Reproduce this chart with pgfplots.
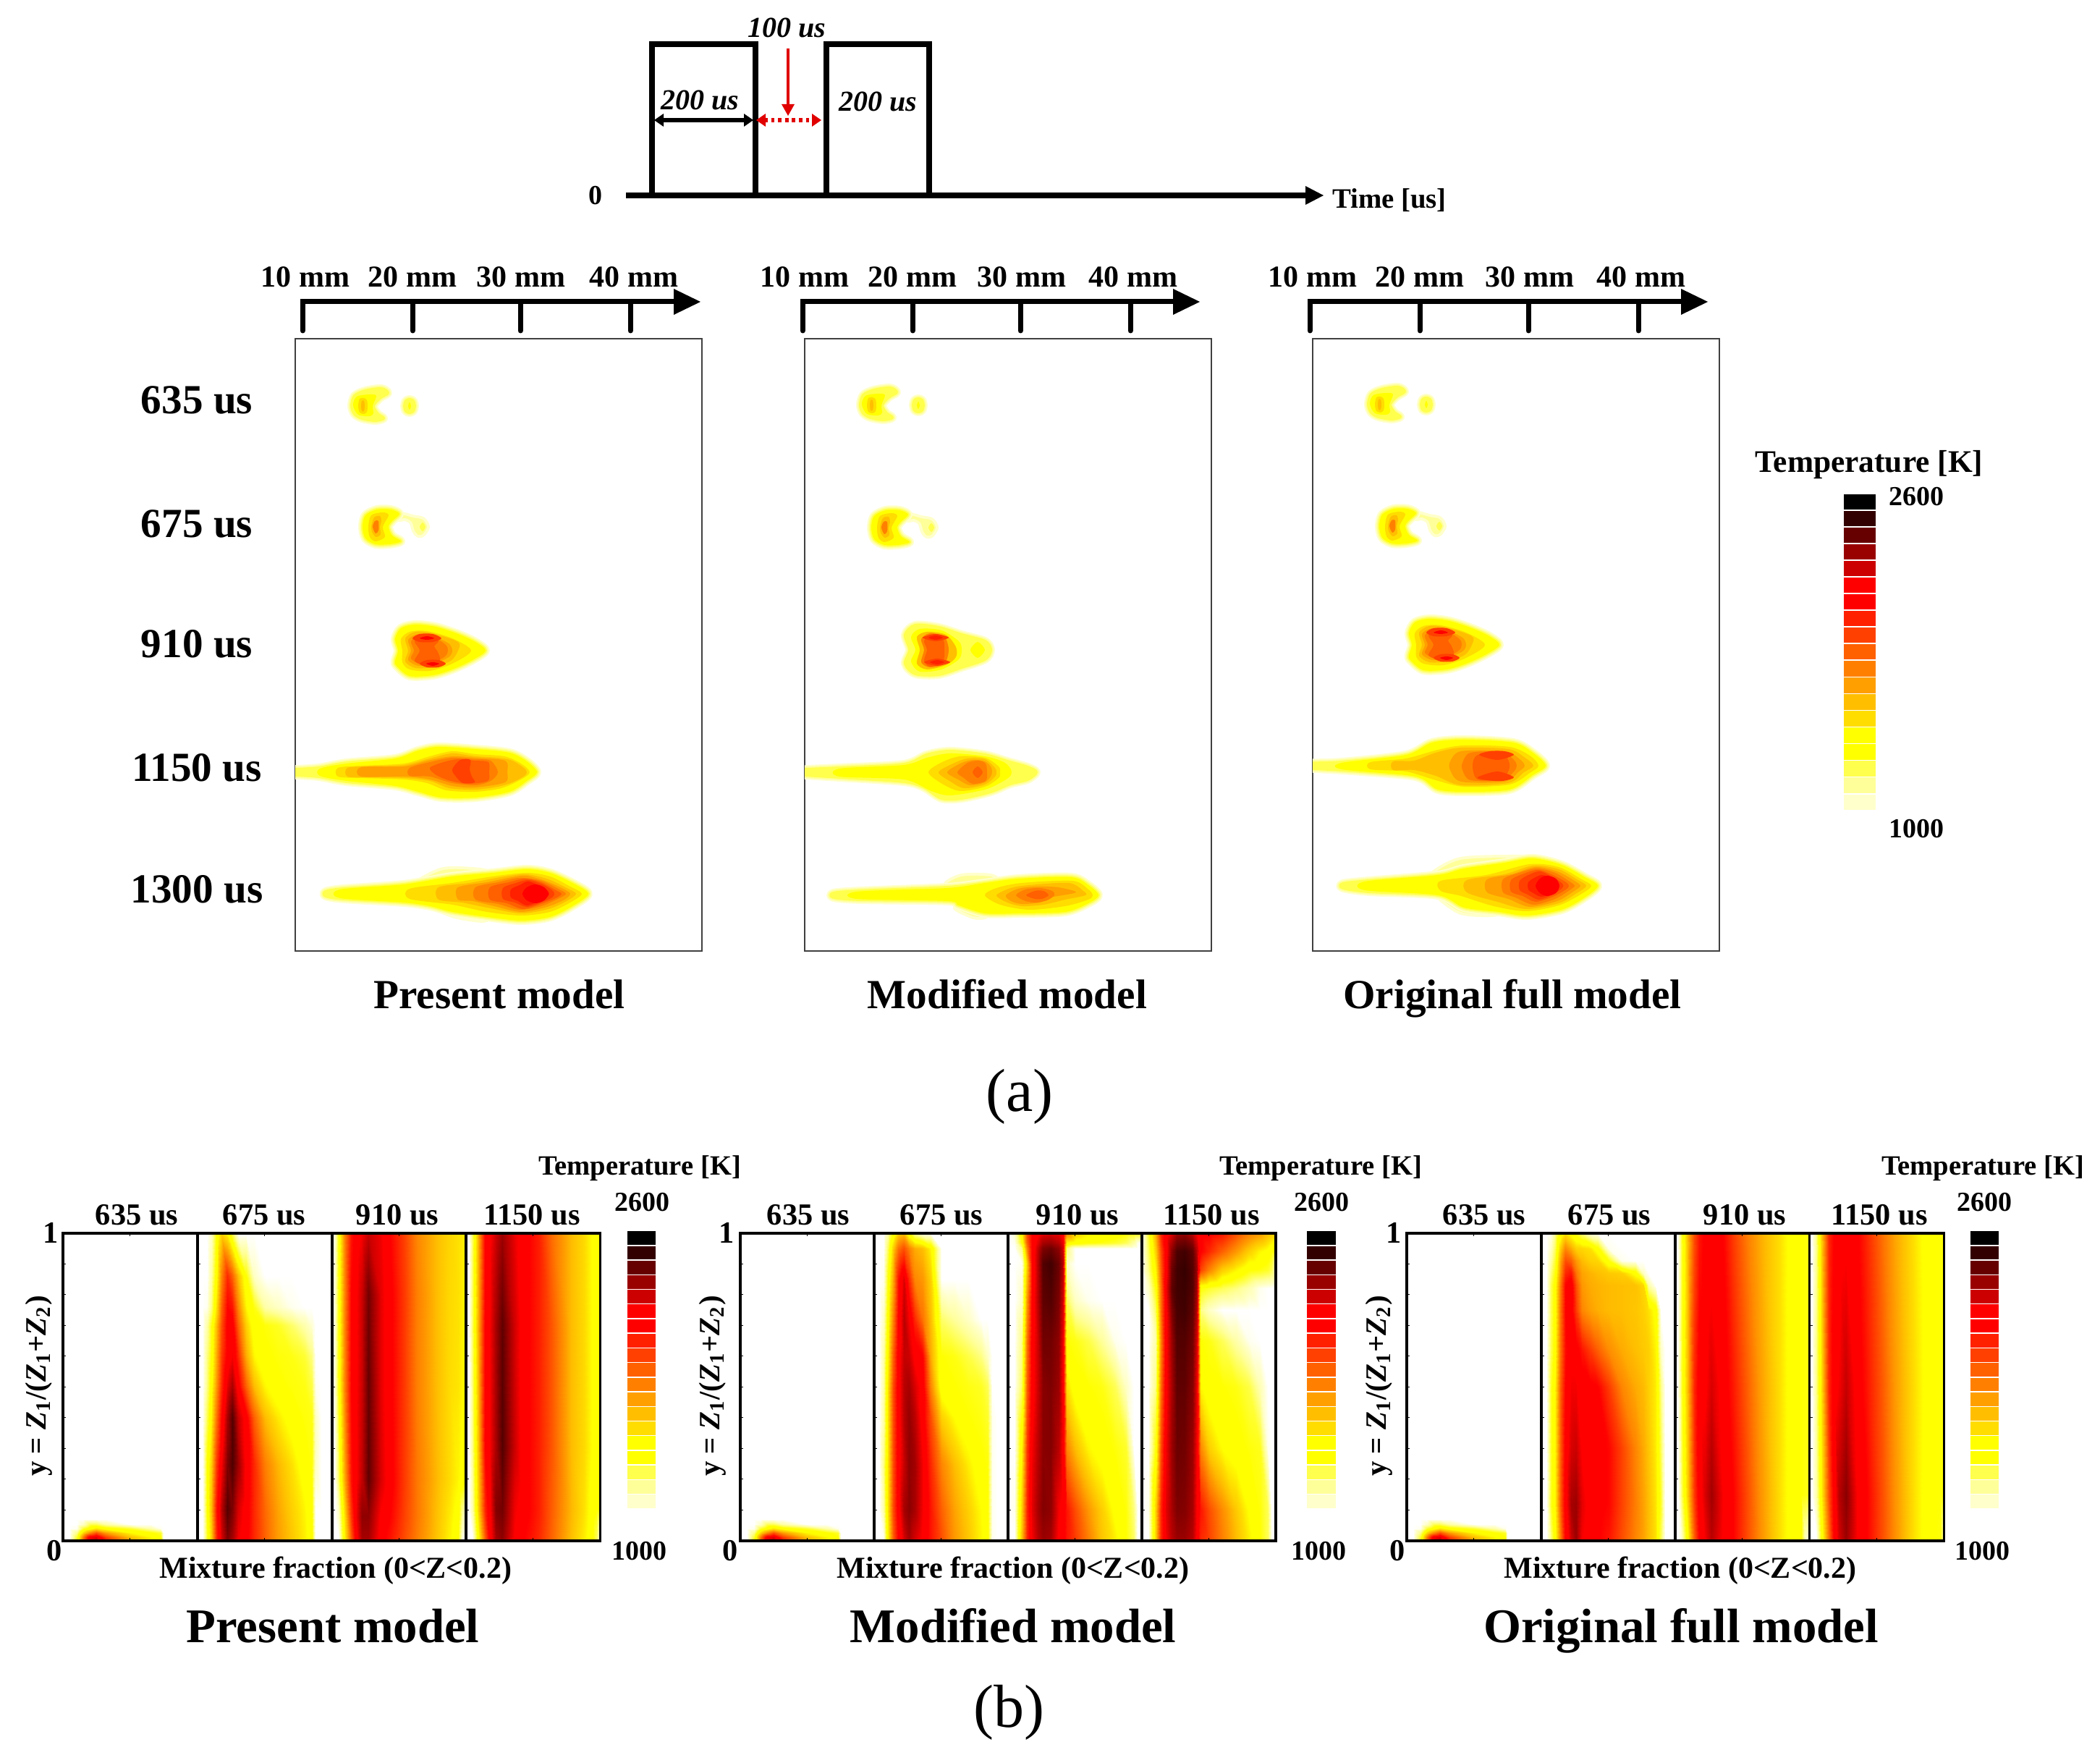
\documentclass[border=0pt]{standalone}
\usepackage{fontspec}
\setmainfont{Liberation Serif}
\usepackage{pgfplots}
\pgfplotsset{compat=1.18}

% contour colours, coolest first
\definecolor{lv1}{HTML}{FFFFCC}\definecolor{lv2}{HTML}{FFFF99}\definecolor{lv3}{HTML}{FFFF4D}
\definecolor{lv4}{HTML}{FFFF00}\definecolor{lv5}{HTML}{FFDD00}\definecolor{lv6}{HTML}{FFBF00}
\definecolor{lv7}{HTML}{FF9F00}\definecolor{lv8}{HTML}{FF8000}\definecolor{lv9}{HTML}{FF6000}
\definecolor{lv10}{HTML}{FF4000}\definecolor{lv11}{HTML}{FF2000}\definecolor{lv12}{HTML}{FF0000}
\definecolor{lv13}{HTML}{CC0000}\definecolor{lv14}{HTML}{990000}\definecolor{lv15}{HTML}{660000}
\definecolor{lv16}{HTML}{330000}\definecolor{lv17}{HTML}{000000}
\definecolor{arrowred}{HTML}{E00000}

\pgfplotsset{
  colormap={temp}{
    rgb255(980pt)=(255,255,255); rgb255(1040pt)=(255,255,204); rgb255(1125pt)=(255,255,153);
    rgb255(1210pt)=(255,255,77); rgb255(1300pt)=(255,255,0); rgb255(1380pt)=(255,255,0);
    rgb255(1460pt)=(255,221,0); rgb255(1550pt)=(255,191,0); rgb255(1630pt)=(255,159,0);
    rgb255(1716pt)=(255,128,0); rgb255(1800pt)=(255,96,0); rgb255(1884pt)=(255,64,0);
    rgb255(1968pt)=(255,32,0); rgb255(2050pt)=(255,0,0); rgb255(2137pt)=(255,0,0);
    rgb255(2220pt)=(204,0,0); rgb255(2305pt)=(153,0,0); rgb255(2390pt)=(102,0,0);
    rgb255(2474pt)=(51,0,0); rgb255(2558pt)=(0,0,0)
  },
  % 1 px of the reference is 0.25pt here
  pos/.style 2 args={at={({#1*.25pt},{(2418-#2)*.25pt})},anchor=north west},
  fa/.style={scale only axis,width=140.5pt,height=211.5pt,xmin=0,xmax=562,ymin=0,ymax=846,
    y dir=reverse,ticks=none,axis line style={draw=black!75,line width=.6pt},
    every axis plot/.append style={x filter/.expression={x+\fx},y filter/.expression={y+\fy}}},
  fb/.style={scale only axis,width=46.4pt,height=106.25pt,xmin=0,xmax=1,ymin=0,ymax=1,
    axis on top,colormap name=temp,point meta min=980,point meta max=2558,
    xtick={.5},ytick={.1,.2,.3,.4,.5,.6,.7,.8,.9},xticklabels={},yticklabels={},
    ytick pos=left,tick align=inside,major tick length=1pt,tick style={black,line width=.25pt},
    axis line style={line width=.85pt}},
  bfield/.style={surf,shader=interp,point meta=explicit},
  cb/.style={scale only axis,hide axis,xmin=0,xmax=1,ymin=0,ymax=19,width=#1*.25pt}
}

\newcommand\cn[2]{\addplot[fill=#1,draw=none,smooth cycle] coordinates {#2};}
\newcommand\hl[2]{%
  \addplot[fill=lv1,draw=lv1,line width=3pt,line join=round,smooth cycle] coordinates {#2};
  \addplot[fill=lv2,draw=lv2,line width=2pt,line join=round,smooth cycle] coordinates {#2};
  \addplot[fill=lv3,draw=lv3,line width=1pt,line join=round,smooth cycle] coordinates {#2};
  \addplot[fill=#1,draw=none,smooth cycle] coordinates {#2};}
\newcommand\hp[1]{%
  \addplot[fill=lv1,draw=lv1,line width=2pt,line join=round,smooth cycle] coordinates {#1};
  \addplot[fill=lv2,draw=none,smooth cycle] coordinates {#1};}

% x list, then y/{T at each x}
\newcommand\fld[2]{%
  \def\xs{#1}\gdef\buf{}%
  \foreach \yy/\vals in {#2}{%
    \foreach \vv [count=\ii from 0] in \vals {%
      \pgfmathsetmacro\xx{{\xs}[\ii]}%
      \xdef\buf{\buf (\xx,\yy) [\vv]}%
    }%
  }%
  \foreach \q [count=\nn] in {#1} {\xdef\ncols{\nn}}%
  \edef\doit{\noexpand\addplot[bfield,mesh/cols=\ncols] coordinates {\buf};}%
  \doit}

\newcommand\seg[2]{\addplot[fill=#2,draw=none] coordinates {(0,#1)(1,#1)(1,#1.93)(0,#1.93)};}
\newcommand\tempbar{%
  \seg{0}{lv1}\seg{1}{lv2}\seg{2}{lv3}\seg{3}{lv4}\seg{4}{lv4}\seg{5}{lv5}\seg{6}{lv6}\seg{7}{lv7}
  \seg{8}{lv8}\seg{9}{lv9}\seg{10}{lv10}\seg{11}{lv11}\seg{12}{lv12}\seg{13}{lv12}\seg{14}{lv13}
  \seg{15}{lv14}\seg{16}{lv15}\seg{17}{lv16}\seg{18}{lv17}}

% flames at 635 and 675 us are nearly the same in all three models
\newcommand\flameA{%
  \hl{lv3}{(78,0)(82,-14)(97,-21)(119,-24)(128,-18)(117,-11)(108,0)(114,11)(122,17)(110,20)(92,17)(82,11)}
  \cn{lv4}{(80,-1)(85,-13)(103,-16)(112,-14)(107,0)(108,10)(103,14)(87,12)}
  \cn{lv5}{(87,0)(89,-10)(95,-11)(99,-8)(100,0)(99,8)(95,11)(89,9)}
  \cn{lv6}{(91,0)(92,-7)(95,-7)(96,0)(95,7)(92,7)}
  \hl{lv3}{(151,0)(153,-7)(158,-9)(163,-7)(165,0)(163,7)(158,9)(153,7)}
  \cn{lv4}{(156,0)(158,-5)(160,0)(158,5)}}
\newcommand\flameB{%
  \hp{(146,-17)(162,-13)(176,-10)(182,0)(176,10)(170,11)(165,5)(161,-7)(152,-12)(144,-11)}
  \cn{lv3}{(172,0)(176,-6)(180,0)(176,6)}
  \hl{lv4}{(93,0)(97,-16)(113,-24)(132,-24)(144,-18)(134,-8)(129,0)(134,12)(146,20)(130,24)(111,24)(97,16)}
  \cn{lv5}{(101,0)(105,-16)(121,-20)(129,-16)(121,0)(124,14)(111,20)(103,14)}
  \cn{lv6}{(105,0)(109,-13)(117,-15)(119,-8)(117,0)(118,10)(112,14)(107,9)}
  \cn{lv8}{(107,0)(110,-8)(115,-8)(115,5)(111,9)}}
\newcommand\flameC{%
  \hl{lv4}{(142,0)(138,-16)(146,-31)(166,-36)(194,-33)(225,-23)(249,-12)(263,0)(245,13)(217,26)(190,34)(158,35)(140,21)(138,14)}
  \cn{lv5}{(148,0)(146,-16)(158,-26)(182,-27)(217,-17)(243,0)(217,18)(186,28)(158,26)(148,16)}
  \cn{lv6}{(156,0)(152,-17)(166,-26)(190,-24)(225,-12)(225,0)(215,14)(190,23)(166,24)(152,15)}
  \cn{lv7}{(160,0)(156,-15)(170,-23)(190,-20)(212,-10)(217,0)(212,9)(190,19)(170,21)(156,13)}
  \cn{lv8}{(164,0)(160,-13)(172,-20)(192,-18)(208,-8)(211,0)(207,8)(190,17)(172,18)(160,11)}
  \cn{lv9}{(172,0)(165,-13)(178,-20)(198,-14)(192,-6)(196,0)(200,10)(198,16)(178,20)(165,14)}
  \cn{lv10}{(162,-17)(172,-23)(190,-23)(202,-17)(190,-12)(172,-12)}
  \cn{lv10}{(172,18)(182,13)(198,13)(208,18)(198,23)(182,23)}
  \cn{lv12}{(172,-17)(182,-20)(192,-17)(182,-15)}
  \cn{lv12}{(181,18)(190,16)(199,18)(190,21)}}

\newcommand\fieldA{\fld{0,.05,.1,.15,.2,.25,.32,.5,.65,.73,.75,1}{
  0/{900,950,1300,1800,2200,2250,2000,1600,1450,1350,900,900},
  .012/{900,930,1250,1750,2150,2200,1900,1550,1400,1300,900,900},
  .025/{900,900,1150,1500,1700,1850,1650,1400,1320,1250,900,900},
  .04/{900,900,1000,1250,1350,1450,1350,1250,1100,1000,900,900},
  .055/{900,900,900,1050,1200,1200,1100,950,900,900,900,900},
  .07/{900,900,900,900,900,900,900,900,900,900,900,900},
  1/{900,900,900,900,900,900,900,900,900,900,900,900}}}

\newcommand\tx[5][]{\node[inner sep=0pt,anchor=base,yshift={-.33*#4pt},#1] at (axis cs:#2,#3) {\fontsize{#4}{#4}\selectfont\bfseries #5};}
\newcommand\scalebar[5]{%
  \addplot[line width=1.75pt,line cap=round] coordinates {(#1,457)(#1,417)(#5,417)};
  \addplot[line width=1.75pt,line cap=round] coordinates {(#2,417)(#2,457)};
  \addplot[line width=1.75pt,line cap=round] coordinates {(#3,417)(#3,457)};
  \addplot[line width=1.75pt,line cap=round] coordinates {(#4,417)(#4,457)};}
\newcommand\ylab[2]{\node[rotate=90,inner sep=0pt] at (axis cs:#1,#2) {\fontsize{10.2}{10.2}\selectfont\bfseries y = \textit{Z}\textsubscript{1}/(\textit{Z}\textsubscript{1}+\textit{Z}\textsubscript{2})};}

\begin{document}
\begin{tikzpicture}
\path[use as bounding box] (0,0) rectangle (725.5pt,604.5pt);

% everything that is not a field: pulses, scales, texts
\begin{axis}[pos={0}{0},scale only axis,width=725.5pt,height=604.5pt,hide axis,clip=false,
  xmin=0,xmax=2902,ymin=0,ymax=2418,y dir=reverse]
\addplot[line width=1.85pt] coordinates {(901,270)(901,61)(1044,61)(1044,270)};
\addplot[line width=1.85pt] coordinates {(1142,270)(1142,61)(1284,61)(1284,270)};
\addplot[line width=1.85pt] coordinates {(865,270)(1806,270)};
\addplot[fill=black,draw=none] coordinates {(1804,257)(1829,270)(1804,283)} -- cycle;
\addplot[line width=1.4pt] coordinates {(912,166)(1033,166)};
\addplot[fill=black,draw=none] coordinates {(904,166)(917,157)(917,175)} -- cycle;
\addplot[fill=black,draw=none] coordinates {(1041,166)(1028,157)(1028,175)} -- cycle;
\addplot[arrowred,line width=1.4pt,dash pattern=on 1.2pt off 1.2pt] coordinates {(1056,166)(1124,166)};
\addplot[fill=arrowred,draw=none] coordinates {(1045,166)(1058,157)(1058,175)} -- cycle;
\addplot[fill=arrowred,draw=none] coordinates {(1135,166)(1122,157)(1122,175)} -- cycle;
\addplot[arrowred,line width=.9pt] coordinates {(1089,67)(1089,146)};
\addplot[fill=arrowred,draw=none] coordinates {(1080,144)(1098,144)(1089,160)} -- cycle;
\tx{1087}{38}{10}{\itshape 100 us}
\tx{967}{138}{10}{\itshape 200 us}
\tx{1213}{140}{10}{\itshape 200 us}
\tx{823}{270}{9.5}{0}
\tx{1920}{275}{9.7}{Time [us]}

\scalebar{418}{570}{719}{871}{935}
\addplot[fill=black,draw=none] coordinates {(931,399)(968,417)(931,435)} -- cycle;
\scalebar{1109}{1261}{1410}{1562}{1625}
\addplot[fill=black,draw=none] coordinates {(1621,399)(1658,417)(1621,435)} -- cycle;
\scalebar{1810}{1962}{2112}{2264}{2327}
\addplot[fill=black,draw=none] coordinates {(2323,399)(2360,417)(2323,435)} -- cycle;
\tx{422}{383}{10.5}{10 mm}\tx{570}{383}{10.5}{20 mm}\tx{720}{383}{10.5}{30 mm}\tx{876}{383}{10.5}{40 mm}
\tx{1112}{383}{10.5}{10 mm}\tx{1261}{383}{10.5}{20 mm}\tx{1412}{383}{10.5}{30 mm}\tx{1566}{383}{10.5}{40 mm}
\tx{1814}{383}{10.5}{10 mm}\tx{1962}{383}{10.5}{20 mm}\tx{2114}{383}{10.5}{30 mm}\tx{2268}{383}{10.5}{40 mm}
\tx{272}{553}{14.3}{635 us}\tx{272}{724}{14.3}{675 us}\tx{272}{890}{14.3}{910 us}
\tx{272}{1061}{14.3}{1150 us}\tx{272}{1229}{14.3}{1300 us}
\tx{690}{1375}{14.3}{Present model}\tx{1392}{1375}{14.3}{Modified model}\tx{2090}{1375}{14.3}{Original full model}
\tx{2583}{638}{10.85}{Temperature [K]}\tx{2648}{686}{9.5}{2600}\tx{2648}{1145}{9.5}{1000}
\node[inner sep=0pt] at (axis cs:1409,1515) {\fontsize{21}{21}\selectfont (a)};
\node[inner sep=0pt] at (axis cs:1394,2366) {\fontsize{21}{21}\selectfont (b)};

% part b labels
\tx{884}{1611}{9.65}{Temperature [K]}\tx{887}{1661}{9.5}{2600}\tx{883}{2143}{9.5}{1000}
\tx{1825}{1611}{9.65}{Temperature [K]}\tx{1826}{1661}{9.5}{2600}\tx{1822}{2143}{9.5}{1000}
\tx{2740}{1611}{9.65}{Temperature [K]}\tx{2742}{1661}{9.5}{2600}\tx{2739}{2143}{9.5}{1000}
\tx{189}{1678}{10.6}{635 us}\tx{365}{1678}{10.6}{675 us}\tx{549}{1678}{10.6}{910 us}\tx{735}{1678}{10.6}{1150 us}
\tx{1117}{1678}{10.6}{635 us}\tx{1301}{1678}{10.6}{675 us}\tx{1489}{1678}{10.6}{910 us}\tx{1674}{1678}{10.6}{1150 us}
\tx{2051}{1678}{10.6}{635 us}\tx{2224}{1678}{10.6}{675 us}\tx{2411}{1678}{10.6}{910 us}\tx{2597}{1678}{10.6}{1150 us}
\tx{70}{1703}{10.6}{1}\tx{75}{2142}{10.6}{0}
\tx{1004}{1703}{10.6}{1}\tx{1009}{2142}{10.6}{0}
\tx{1926}{1703}{10.6}{1}\tx{1931}{2142}{10.6}{0}
\tx{464}{2167}{10.5}{Mixture fraction (0<Z<0.2)}\tx{1400}{2167}{10.5}{Mixture fraction (0<Z<0.2)}\tx{2322}{2167}{10.5}{Mixture fraction (0<Z<0.2)}
\tx{460}{2247}{16.7}{Present model}\tx{1400}{2247}{16.7}{Modified model}\tx{2323}{2247}{16.7}{Original full model}
\ylab{54}{1915}\ylab{985}{1915}\ylab{1906}{1915}
\end{axis}

% colour scales
\begin{axis}[pos={2548}{681},cb=44,height=109.5pt]\tempbar\end{axis}
\begin{axis}[pos={867}{1700},cb=39,height=96pt]\tempbar\end{axis}
\begin{axis}[pos={1806}{1700},cb=40,height=96pt]\tempbar\end{axis}
\begin{axis}[pos={2723}{1700},cb=39,height=96pt]\tempbar\end{axis}

% (a) Present model
\begin{axis}[fa,pos={408}{468}]
\def\fx{0}
\def\fy{93}\flameA
\def\fy{260}\flameB
\def\fy{431}\flameC
\def\fy{599}
\hl{lv3}{(-6,-3)(32,-6)(71,-13)(138,-19)(170,-30)(198,-35)(249,-32)(296,-27)(320,-15)(334,0)(320,12)(296,27)(249,35)(202,35)(170,27)(138,19)(71,13)(32,6)(-6,3)}
\cn{lv4}{(34,-5)(71,-12)(138,-19)(170,-30)(198,-35)(249,-32)(296,-27)(320,-15)(334,0)(320,12)(296,27)(249,35)(202,35)(170,27)(138,19)(71,12)(34,5)}
\cn{lv5}{(59,-6)(91,-9)(150,-12)(186,-22)(217,-29)(249,-25)(289,-22)(312,-12)(324,0)(312,10)(285,22)(249,27)(209,25)(182,15)(150,10)(91,8)(59,6)}
\cn{lv6}{(72,-6)(100,-8)(150,-10)(186,-19)(217,-26)(249,-22)(280,-20)(300,-16)(318,-4)(318,4)(300,14)(280,20)(249,24)(213,22)(186,12)(150,8)(100,7)(72,6)}
\cn{lv7}{(91,-7)(150,-8)(183,-16)(217,-22)(249,-20)(290,-16)(293,0)(290,14)(249,21)(217,19)(186,10)(150,6)(91,6)}
\cn{lv8}{(158,-6)(186,-14)(217,-20)(249,-18)(270,-16)(280,0)(270,12)(249,18)(217,15)(186,6)(158,5)}
\cn{lv9}{(186,-6)(205,-14)(225,-18)(249,-16)(267,-14)(268,0)(266,12)(240,16)(215,12)(195,4)}
\cn{lv10}{(217,-4)(228,-17)(242,-17)(241,-4)(244,6)(248,14)(232,15)(222,6)}
\def\fy{767}
\hp{(170,-15)(205,-33)(255,-32)(273,-25)(217,-20)}
\hp{(185,15)(220,30)(260,36)(265,28)(217,22)}
\hl{lv3}{(42,-3)(67,-7)(150,-13)(217,-24)(273,-29)(320,-34)(352,-29)(383,-15)(405,0)(383,17)(352,32)(312,37)(265,32)(217,25)(186,17)(150,12)(67,7)(42,3)}
\cn{lv4}{(62,-6)(150,-13)(217,-24)(273,-29)(320,-34)(352,-29)(383,-15)(405,0)(383,17)(352,32)(312,37)(265,32)(217,25)(186,17)(150,12)(62,6)}
\cn{lv5}{(158,-7)(217,-15)(273,-24)(320,-29)(352,-24)(380,-10)(396,0)(380,12)(352,25)(312,30)(265,25)(217,15)(158,7)}
\cn{lv6}{(198,-9)(240,-15)(290,-24)(320,-27)(350,-20)(375,-8)(388,0)(375,10)(350,21)(312,27)(270,20)(230,12)(198,8)}
\cn{lv7}{(225,-9)(265,-16)(300,-23)(320,-25)(348,-17)(372,-6)(380,0)(372,8)(348,18)(312,25)(275,17)(245,10)(225,8)}
\cn{lv8}{(249,-9)(280,-16)(310,-22)(340,-18)(365,-6)(374,0)(365,6)(340,17)(310,22)(280,14)(249,8)}
\cn{lv9}{(269,-9)(295,-16)(318,-21)(340,-16)(360,-5)(368,0)(360,6)(340,14)(315,21)(292,13)(269,8)}
\cn{lv10}{(287,-8)(305,-15)(322,-19)(342,-13)(355,-5)(358,0)(355,5)(340,12)(320,18)(303,12)(287,7)}
\cn{lv11}{(298,-6)(310,-12)(322,-17)(340,-10)(350,-3)(350,3)(338,10)(320,16)(308,10)(298,5)}
\cn{lv12}{(314,0)(320,-9)(332,-13)(344,-9)(350,0)(344,9)(332,13)(320,9)}
\end{axis}

% (a) Modified model
\begin{axis}[fa,pos={1112}{468}]
\def\fx{-1}
\def\fy{92}\flameA
\def\fy{261}\flameB
\def\fx{0}
\def\fy{430}
\hl{lv3}{(145,0)(139,-21)(153,-34)(185,-31)(217,-21)(249,-12)(257,0)(249,13)(217,24)(185,34)(153,33)(139,19)}
\cn{lv4}{(153,0)(147,-18)(159,-29)(189,-27)(213,-12)(217,0)(213,13)(189,27)(159,30)(147,16)}
\cn{lv4}{(229,0)(239,-11)(249,0)(239,11)}
\cn{lv6}{(159,0)(155,-18)(169,-25)(195,-21)(209,-4)(209,10)(195,21)(169,27)(155,19)}
\cn{lv8}{(165,0)(161,-15)(173,-23)(193,-18)(199,0)(193,19)(173,24)(161,17)}
\cn{lv9}{(169,0)(165,-12)(173,-21)(191,-15)(193,0)(191,16)(173,23)(165,15)}
\cn{lv10}{(163,-17)(181,-22)(199,-17)(181,-12)}
\cn{lv10}{(165,17)(183,12)(201,17)(183,22)}
\cn{lv11}{(171,-17)(181,-20)(191,-17)(181,-14)}
\cn{lv11}{(173,17)(183,14)(193,17)(183,20)}
\def\fy{599}
\hl{lv3}{(-6,-3)(48,-6)(137,-11)(169,-24)(201,-29)(249,-24)(280,-15)(308,-7)(320,0)(308,10)(284,16)(257,27)(217,36)(189,36)(165,21)(137,13)(48,7)(-6,3)}
\cn{lv4}{(48,-5)(137,-10)(169,-20)(201,-26)(249,-22)(275,-14)(285,-4)(285,4)(275,12)(249,24)(201,32)(175,26)(137,10)(48,6)}
\cn{lv5}{(171,0)(190,-14)(215,-22)(249,-20)(268,-8)(270,0)(268,8)(249,20)(215,26)(190,16)}
\cn{lv6}{(185,0)(205,-12)(225,-19)(249,-18)(263,-6)(265,0)(263,6)(249,17)(220,22)(200,12)}
\cn{lv7}{(197,0)(215,-12)(232,-17)(249,-15)(258,-6)(258,4)(249,14)(228,18)(212,10)}
\cn{lv8}{(211,0)(225,-13)(240,-16)(250,-12)(252,0)(250,12)(232,16)(220,8)}
\cn{lv9}{(232,0)(239,-8)(246,0)(239,8)}
\def\fy{769}
\hp{(197,-14)(217,-26)(257,-26)(262,-18)}
\hp{(209,17)(233,29)(249,29)(249,22)}
\hl{lv3}{(40,-3)(78,-6)(197,-11)(249,-17)(296,-23)(368,-25)(392,-14)(406,0)(392,11)(360,23)(296,25)(249,25)(213,14)(197,8)(78,6)(40,3)}
\cn{lv4}{(72,-5)(197,-10)(249,-17)(296,-23)(368,-25)(392,-14)(406,0)(392,11)(360,23)(296,25)(249,25)(213,14)(197,8)(72,5)}
\cn{lv5}{(249,0)(265,-10)(300,-17)(370,-20)(392,-8)(398,0)(392,6)(360,15)(310,20)(270,13)}
\cn{lv6}{(265,0)(285,-10)(310,-14)(365,-17)(385,-6)(388,0)(360,6)(330,13)(300,15)(280,10)}
\cn{lv7}{(278,0)(295,-9)(320,-12)(350,-11)(375,-4)(340,3)(325,10)(300,12)(285,8)}
\cn{lv8}{(292,0)(305,-8)(325,-10)(342,-6)(345,0)(335,7)(320,10)(305,8)}
\cn{lv9}{(306,0)(318,-6)(330,-6)(337,0)(328,5)(318,5)}
\end{axis}

% (a) Original full model
\begin{axis}[fa,pos={1814}{468}]
\def\fx{-1}
\def\fy{91}\flameA
\def\fy{259}\flameB
\def\fx{-5}
\def\fy{423}\flameC
\def\fx{0}
\def\fy{590}
\hl{lv3}{(-6,-3)(40,-5)(129,-15)(165,-32)(209,-36)(277,-32)(304,-18)(322,0)(304,13)(272,33)(209,36)(173,33)(153,19)(129,13)(40,6)(-6,3)}
\cn{lv4}{(40,-4)(129,-15)(165,-32)(209,-36)(277,-32)(304,-18)(322,0)(304,13)(272,33)(209,36)(173,33)(153,19)(129,13)(40,5)}
\cn{lv5}{(80,-5)(129,-10)(173,-22)(209,-28)(272,-26)(300,-14)(312,0)(300,10)(272,26)(209,29)(170,20)(129,8)(80,5)}
\cn{lv6}{(111,-6)(140,-7)(170,-18)(205,-25)(270,-23)(292,-12)(305,0)(292,9)(270,24)(205,27)(170,14)(140,6)(111,6)}
\cn{lv7}{(190,-6)(205,-20)(265,-20)(285,-10)(293,0)(285,8)(265,22)(205,22)(190,6)}
\cn{lv8}{(207,-4)(218,-18)(262,-19)(278,-8)(282,0)(278,8)(262,20)(218,20)(207,6)}
\cn{lv9}{(221,0)(228,-15)(262,-18)(271,-6)(272,0)(271,6)(262,18)(228,19)}
\cn{lv10}{(230,-15)(245,-20)(265,-20)(278,-15)(255,-8)}
\cn{lv10}{(228,16)(255,8)(278,16)(262,21)(240,20)}
\def\fy{756}
\hp{(165,-15)(205,-36)(290,-39)(304,-36)(209,-25)}
\hp{(175,15)(205,36)(248,39)(257,34)(209,28)}
\hl{lv3}{(42,-3)(78,-7)(173,-15)(209,-24)(265,-32)(304,-38)(344,-29)(376,-12)(394,0)(376,16)(344,33)(296,41)(257,36)(209,30)(173,13)(78,8)(42,3)}
\cn{lv4}{(72,-6)(173,-15)(209,-24)(265,-32)(304,-38)(344,-29)(376,-12)(394,0)(376,16)(344,33)(296,41)(257,36)(209,30)(173,13)(72,6)}
\cn{lv5}{(177,-7)(240,-15)(300,-30)(340,-26)(370,-10)(385,0)(370,12)(340,27)(295,35)(250,28)(205,14)(177,7)}
\cn{lv6}{(213,-8)(265,-16)(305,-28)(340,-23)(365,-9)(378,0)(365,10)(340,24)(295,32)(255,22)(213,9)}
\cn{lv7}{(241,-9)(275,-16)(308,-26)(338,-20)(360,-8)(370,0)(360,8)(338,21)(300,29)(270,18)(241,9)}
\cn{lv8}{(263,-9)(285,-18)(310,-24)(335,-18)(355,-6)(362,0)(355,6)(335,18)(305,26)(280,16)(263,9)}
\cn{lv9}{(274,-8)(292,-17)(312,-22)(332,-15)(350,-5)(354,0)(350,5)(332,15)(308,22)(290,14)(274,8)}
\cn{lv10}{(286,-7)(298,-15)(314,-20)(332,-12)(345,-3)(345,3)(330,13)(312,19)(297,12)(286,6)}
\cn{lv11}{(298,-5)(308,-12)(318,-15)(330,-9)(338,0)(330,10)(316,15)(305,10)(298,5)}
\cn{lv12}{(308,0)(314,-10)(324,-14)(336,-10)(341,0)(336,10)(324,14)(314,10)}
\end{axis}

% (b) Present model
\begin{axis}[fb,pos={87}{1704}]\fieldA\end{axis}
\begin{axis}[fb,pos={273}{1704}]
\fld{0,.04,.07,.1,.14,.18,.22,.26,.3,.36,.42,.5,.6,.7,.8,.85,.88,.92,1}{
0/{900,900,1250,1500,1950,2200,2350,2280,2150,2080,1950,1800,1640,1530,1420,1320,950,900,900},
.1/{900,900,1300,1550,2000,2250,2420,2350,2200,2100,1950,1780,1620,1500,1400,1300,950,900,900},
.25/{900,950,1300,1500,1900,2150,2350,2430,2300,2120,1950,1720,1570,1450,1320,1290,1050,900,900},
.4/{900,950,1200,1400,1750,2050,2280,2420,2230,2100,1800,1560,1430,1330,1290,1280,1050,900,900},
.5/{900,950,1150,1350,1650,1950,2180,2280,2100,1800,1560,1400,1310,1290,1280,1220,1000,900,900},
.6/{900,950,1150,1300,1600,1900,2080,2150,1950,1600,1400,1310,1290,1280,1240,1150,980,900,900},
.7/{900,950,1100,1280,1550,1850,2080,2100,1800,1500,1320,1290,1260,1180,1090,1030,980,900,900},
.76/{900,900,1000,1150,1450,1800,2050,2000,1700,1400,1280,1100,1050,1000,980,900,900,900,900},
.86/{900,900,950,1100,1350,1700,1950,1800,1550,1300,1050,900,900,900,900,900,900,900,900},
1/{900,900,950,1050,1300,1500,1400,1200,950,900,900,900,900,900,900,900,900,900,900}}
\end{axis}
\begin{axis}[fb,pos={459}{1704}]
\fld{0,.02,.05,.09,.14,.18,.22,.27,.36,.43,.54,.63,.78,.88,.94,.97,1}{
0/{900,900,950,1400,1800,2100,2280,2280,2100,2000,1850,1720,1530,1400,1300,1000,900},
.08/{900,900,1050,1450,1900,2150,2320,2320,2130,2050,1880,1740,1540,1420,1340,1100,900},
.2/{900,1000,1200,1600,2000,2130,2240,2400,2200,2090,1900,1740,1560,1460,1400,1350,1300},
.5/{900,1050,1300,1700,2050,2130,2220,2390,2180,2080,1900,1720,1550,1460,1440,1400,1380},
.8/{900,1050,1300,1700,2050,2130,2220,2370,2180,2080,1900,1720,1550,1470,1450,1420,1400},
1/{900,1050,1300,1700,2000,2100,2150,2230,2160,2050,1880,1700,1550,1480,1450,1430,1420}}
\end{axis}
\begin{axis}[fb,pos={644}{1704}]
\fld{0,.02,.05,.09,.14,.18,.22,.27,.36,.43,.54,.63,.78,.88,.94,.97,1}{
0/{900,900,950,1350,1800,2100,2280,2320,2130,2050,1950,1800,1550,1420,1320,1200,900},
.1/{900,950,1100,1500,1950,2130,2340,2370,2160,2090,1980,1820,1570,1450,1340,1300,1280},
.3/{900,950,1150,1550,2050,2150,2280,2420,2220,2090,1980,1840,1560,1470,1380,1320,1300},
.7/{900,950,1200,1600,2050,2150,2280,2400,2210,2090,1980,1840,1560,1470,1380,1320,1300},
1/{900,950,1200,1600,2050,2130,2220,2300,2170,2090,1980,1780,1560,1470,1380,1320,1300}}
\end{axis}

% (b) Modified model
\begin{axis}[fb,pos={1023}{1704},width=46.25pt]\fieldA\end{axis}
\begin{axis}[fb,pos={1208}{1704},width=46.25pt]
\fld{0,.04,.07,.1,.14,.18,.22,.26,.3,.36,.42,.5,.6,.7,.8,.85,.88,.92,1}{
0/{900,900,1000,1400,1800,2050,2200,2280,2200,2120,2000,1850,1650,1530,1400,1320,1000,900,900},
.1/{900,900,1100,1450,1850,2100,2280,2330,2280,2150,2000,1800,1620,1500,1380,1300,1000,900,900},
.25/{900,900,1150,1450,1850,2100,2230,2320,2290,2150,1950,1700,1550,1420,1310,1290,1000,900,900},
.4/{900,900,1100,1450,1850,2100,2250,2310,2250,2100,1850,1500,1380,1300,1280,1250,1000,900,900},
.5/{900,900,1100,1450,1850,2100,2250,2280,2200,2100,1700,1320,1300,1280,1260,1200,980,900,900},
.6/{900,900,1100,1400,1800,2100,2230,2220,2120,2050,1600,1300,1280,1220,1150,1050,950,900,900},
.72/{900,900,1050,1350,1700,2050,2250,2150,1950,1750,1550,1180,1120,1050,980,900,900,900,900},
.85/{900,900,1000,1300,1600,2000,2200,1950,1700,1650,1500,950,900,900,900,900,900,900,900},
.95/{900,900,980,1200,1500,1750,1850,1720,1600,1550,1400,900,900,900,900,900,900,900,900},
1/{900,900,950,1100,1300,1500,1550,1300,1100,1000,950,900,900,900,900,900,900,900,900}}
\end{axis}
\begin{axis}[fb,pos={1393}{1704},width=46.25pt]
\fld{0,.05,.1,.14,.18,.22,.26,.32,.38,.41,.44,.5,.6,.7,.8,.88,.94,.97,1}{
0/{900,950,1550,1950,2150,2250,2300,2280,2120,2100,2000,1900,1720,1530,1420,1300,1180,950,900},
.1/{900,1000,1500,1950,2180,2280,2340,2320,2150,2100,2000,1850,1650,1500,1350,1290,1150,900,900},
.3/{900,950,1400,1900,2150,2250,2330,2340,2250,2120,1700,1550,1400,1320,1290,1250,950,900,900},
.5/{900,900,1200,1800,2100,2220,2330,2350,2300,2120,1450,1320,1300,1280,1200,1050,900,900,900},
.65/{900,900,1150,1750,2100,2220,2370,2370,2320,2150,1300,1280,1220,1120,1000,900,900,900,900},
.78/{900,900,1050,1650,2080,2250,2400,2420,2350,2200,1200,1050,1000,900,900,900,900,900,900},
.9/{900,900,1000,1500,2050,2250,2420,2450,2380,2250,1050,900,900,900,900,900,900,900,900},
.95/{900,900,1150,1700,2060,2230,2350,2380,2320,2200,1150,950,900,900,900,900,900,900,900},
.97/{900,1000,1300,1800,2050,2180,2280,2300,2250,2150,1400,1350,1300,1280,1250,1200,1100,1000,950},
1/{900,1050,1400,1850,2050,2120,2180,2200,2180,2100,1700,1500,1420,1380,1350,1300,1280,1280,1280}}
\end{axis}
\begin{axis}[fb,pos={1578}{1704},width=46.25pt]
\fld{0,.05,.1,.14,.18,.22,.26,.32,.38,.41,.44,.5,.6,.7,.8,.88,.94,.97,1}{
0/{900,950,1500,1950,2150,2250,2300,2300,2250,2120,1950,1880,1720,1560,1420,1300,1200,1000,900},
.1/{900,1000,1500,1950,2180,2280,2350,2340,2280,2130,2000,1850,1680,1520,1370,1290,1200,900,900},
.3/{900,950,1300,1850,2150,2300,2380,2370,2300,2140,1700,1500,1380,1320,1290,1270,1000,900,900},
.5/{900,900,1150,1750,2120,2280,2400,2400,2340,2160,1400,1310,1300,1280,1220,1080,950,900,900},
.65/{900,900,1100,1700,2120,2300,2420,2420,2370,2200,1300,1280,1200,1100,1000,920,900,900,900},
.75/{900,950,1200,1750,2120,2350,2440,2450,2400,2250,1150,1050,950,900,900,900,900,900,900},
.82/{900,1050,1300,1750,2150,2400,2450,2460,2420,2280,1300,1250,1200,1150,1080,1000,950,900,900},
.88/{900,1150,1400,1800,2100,2380,2450,2470,2420,2300,1880,1700,1500,1400,1300,1280,1250,1200,1050},
.94/{900,1200,1500,1850,2100,2330,2430,2450,2400,2250,2060,1950,1800,1650,1500,1400,1350,1300,1280},
1/{900,1250,1600,1950,2100,2200,2300,2320,2250,2150,2080,2060,2000,1850,1720,1650,1560,1520,1500}}
\end{axis}

% (b) Original full model
\begin{axis}[fb,pos={1944}{1704}]\fieldA\end{axis}
\begin{axis}[fb,pos={2130}{1704}]
\fld{0,.04,.07,.1,.14,.18,.22,.26,.3,.36,.42,.5,.6,.7,.76,.8,.85,.89,.92,1}{
0/{900,900,1150,1350,1700,2050,2220,2300,2150,2080,2060,2000,1850,1700,1620,1550,1450,1200,900,900},
.12/{900,950,1250,1400,1800,2100,2280,2300,2180,2100,2080,2040,1880,1720,1620,1550,1440,1250,900,900},
.3/{900,950,1250,1400,1800,2080,2200,2220,2130,2100,2080,2040,1880,1700,1600,1530,1420,1200,900,900},
.5/{900,950,1250,1400,1800,2050,2150,2150,2100,2080,2050,1900,1700,1600,1560,1500,1420,1150,900,900},
.62/{900,950,1200,1350,1750,2020,2120,2090,2000,1900,1800,1680,1600,1550,1520,1500,1400,1050,900,900},
.75/{900,950,1200,1350,1750,2050,2100,1900,1700,1630,1590,1560,1550,1530,1500,1450,1350,950,900,900},
.83/{900,950,1200,1350,1720,2050,2120,1850,1650,1600,1580,1560,1550,1540,1480,1100,950,900,900,900},
.87/{900,950,1150,1300,1650,1950,2000,1750,1620,1580,1550,1520,1500,1350,1050,900,900,900,900,900},
.91/{900,900,1100,1250,1600,1850,1800,1650,1560,1500,1480,1300,1000,900,900,900,900,900,900,900},
.95/{900,900,1050,1200,1500,1700,1600,1500,1480,1450,1320,1000,900,900,900,900,900,900,900,900},
1/{900,900,1000,1150,1320,1450,1350,1250,1150,1020,950,900,900,900,900,900,900,900,900,900}}
\end{axis}
\begin{axis}[fb,pos={2315}{1704}]
\fld{0,.02,.05,.09,.14,.18,.22,.27,.36,.43,.54,.63,.78,.88,.94,.97,1}{
0/{900,900,1050,1350,1800,2050,2150,2250,2120,2050,1850,1680,1450,1320,1300,1050,900},
.15/{900,950,1200,1500,1900,2100,2200,2290,2130,2050,1850,1670,1450,1320,1300,1280,1280},
.5/{900,1000,1250,1550,1950,2100,2120,2200,2100,1990,1800,1640,1450,1320,1300,1290,1280},
1/{900,1000,1250,1550,1850,2000,2070,2090,2040,1900,1720,1600,1450,1330,1300,1290,1280}}
\end{axis}
\begin{axis}[fb,pos={2500.6}{1704}]
\fld{0,.02,.05,.09,.14,.18,.22,.27,.36,.43,.54,.63,.78,.88,.94,.97,1}{
0/{900,900,950,1300,1750,2050,2200,2300,2130,2050,1850,1680,1450,1330,1300,1290,1100},
.15/{900,900,1100,1400,1850,2080,2250,2330,2130,2050,1850,1670,1450,1330,1300,1295,1290},
.5/{900,950,1150,1450,1950,2100,2150,2230,2100,2000,1820,1650,1460,1340,1300,1295,1290},
1/{900,950,1150,1500,1950,2050,2100,2120,2060,1950,1760,1620,1450,1330,1300,1295,1290}}
\end{axis}
\end{tikzpicture}
\end{document}
